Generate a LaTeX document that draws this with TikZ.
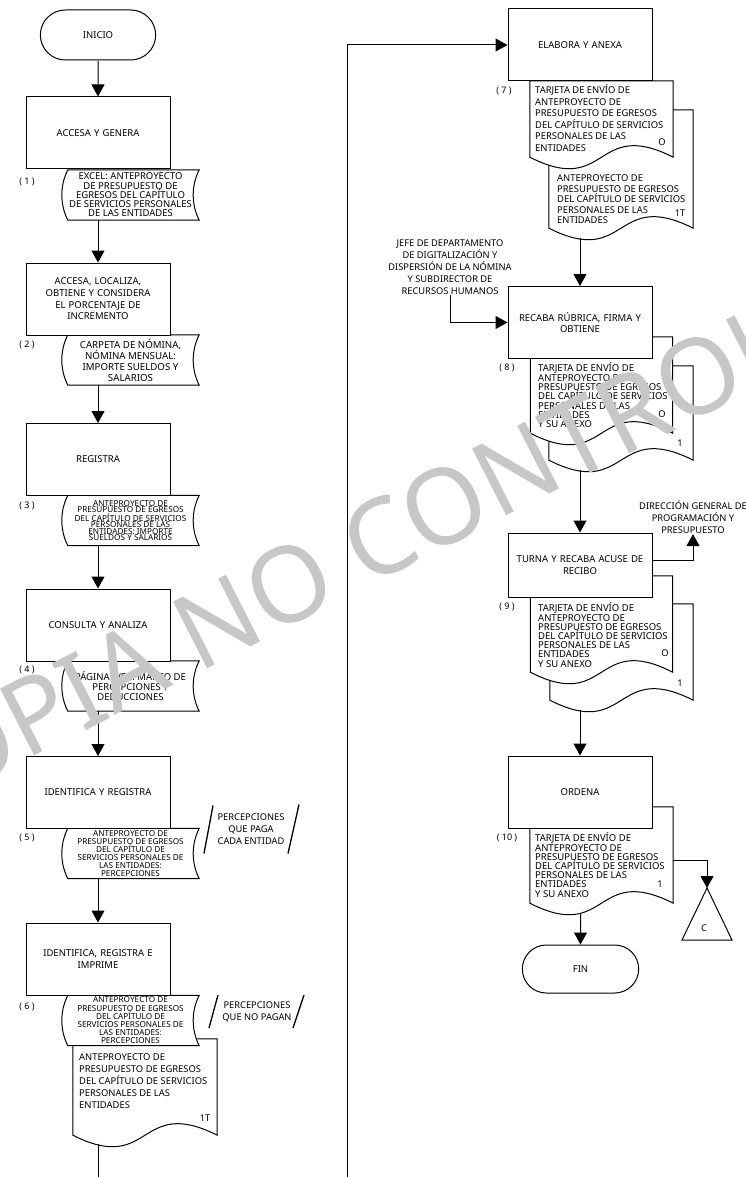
\documentclass[tikz,border=0pt]{standalone}
\usepackage{fontspec}
\setmainfont{Noto Sans}
\usetikzlibrary{positioning, calc, shapes.misc, arrows.meta, backgrounds}

% outlines drawn from the corners of an empty node
\newcommand{\docshape}[1]{%
  \draw[docline] (#1.north west) -- (#1.south west)
    .. controls ($(#1.south west)!0.55!(#1.south east)+(0,40)$) and ($(#1.south west)!0.45!(#1.south east)+(0,-40)$) .. (#1.south east)
    -- (#1.north east) -- cycle;}
\newcommand{\storeshape}[1]{%
  \draw[docline] ($(#1.north west)+(6,0)$) -- (#1.north east)
    .. controls +(-8,16) and +(-8,-16) .. (#1.south east)
    -- ($(#1.south west)+(6,0)$)
    .. controls +(-8,-16) and +(-8,16) .. ($(#1.north west)+(6,0)$) -- cycle;}

\begin{document}
\begin{tikzpicture}[
        x=1pt, y=-1pt,
        box/.style={rectangle, draw, fill=white, line width=1pt, minimum width=144pt, minimum height=72pt, text width=130pt, align=center, font=\fontsize{9.5}{11.7}\selectfont},
        term/.style={rounded rectangle, draw, fill=white, line width=1pt, minimum width=122pt, minimum height=50pt, font=\fontsize{9.5}{11}\selectfont},
        store/.style={inner sep=0pt, minimum width=137pt, minimum height=50pt, align=center},
        docarea/.style={inner sep=0pt},
        doctext/.style={anchor=north west, inner sep=0pt, align=left},
        docline/.style={draw, fill=white, line width=1pt},
        num/.style={inner sep=0pt, font=\fontsize{9}{10}\selectfont},
        tagtext/.style={inner sep=0pt, font=\fontsize{9.3}{10}\selectfont},
        note/.style={inner sep=0pt, align=center, font=\fontsize{9.3}{12}\selectfont},
        slash/.style={line width=1.3pt},
        line/.style={line width=1pt},
        arrow/.style={-{Triangle[length=12pt, width=13pt]}, line width=1pt},
        wm/.style={inner sep=0pt, text=black!22, font=\fontsize{105}{110}\selectfont}
    ]
    \useasboundingbox (0,0) rectangle (745,1177);

    % left column
    \node[term] (start) at (98,35) {INICIO};
    \node[box] (b1) at (98,133) {ACCESA Y GENERA};
    \node[store, font=\fontsize{9.5}{9.3}\selectfont] (s1) at (130.5,195) {EXCEL: ANTEPROYECTO\\DE PRESUPUESTO DE\\EGRESOS DEL CAPÍTULO\\DE SERVICIOS PERSONALES\\DE LAS ENTIDADES};
    \node[num] (n1) at (27,182) {( 1 )};

    \node[box] (b2) at (98,299) {ACCESA, LOCALIZA,\\OBTIENE Y CONSIDERA\\EL PORCENTAJE DE\\INCREMENTO};
    \node[store, font=\fontsize{9.7}{11}\selectfont] (s2) at (130.5,360) {CARPETA DE NÓMINA,\\NÓMINA MENSUAL:\\IMPORTE SUELDOS Y\\SALARIOS};
    \node[num] (n2) at (27,345) {( 2 )};

    \node[box] (b3) at (98,459.5) {REGISTRA};
    \node[store, font=\fontsize{8.2}{6.5}\selectfont] (s3) at (130.5,520.5) {\raisebox{3pt}{}ANTEPROYECTO DE\\PRESUPUESTO DE EGRESOS\\DEL CAPÍTULO DE SERVICIOS\\PERSONALES DE LAS\\ENTIDADES: IMPORTE\\SUELDOS Y SALARIOS};
    \node[num] (n3) at (27,506) {( 3 )};

    \node[box] (b4) at (98,625) {CONSULTA Y ANALIZA};
    \node[store, font=\fontsize{9.5}{10}\selectfont] (s4) at (130.5,686) {PÁGINA WEB: MARCO DE\\PERCEPCIONES Y\\DEDUCCIONES};
    \node[num] (n4) at (27,670) {( 4 )};

    \node[box] (b5) at (98,792.5) {IDENTIFICA Y REGISTRA};
    \node[store, font=\fontsize{8.2}{8}\selectfont] (s5) at (130.5,853.5) {ANTEPROYECTO DE\\PRESUPUESTO DE EGRESOS\\DEL CAPÍTULO DE\\SERVICIOS PERSONALES DE\\LAS ENTIDADES:\\PERCEPCIONES};
    \node[num] (n5) at (27,838) {( 5 )};
    \node[note] (p5) at (251,829.5) {PERCEPCIONES\\QUE PAGA\\CADA ENTIDAD};
    \draw[slash] ($(p5)+(-38,-24)$) -- ($(p5)+(-47,24)$);
    \draw[slash] ($(p5)+(48,-25)$) -- ($(p5)+(37,24)$);

    \node[box] (b6) at (98,959) {IDENTIFICA, REGISTRA E\\IMPRIME};
    \node[store, font=\fontsize{8.2}{8.2}\selectfont] (s6) at (130.5,1020.5) {ANTEPROYECTO DE\\PRESUPUESTO DE EGRESOS\\DEL CAPÍTULO DE\\SERVICIOS PERSONALES DE\\LAS ENTIDADES:\\PERCEPCIONES};
    \node[num] (n6) at (27,1007) {( 6 )};
    \node[note] (p6) at (257,1011.5) {PERCEPCIONES\\QUE NO PAGAN};
    \draw[slash] ($(p6)+(-39,-16.5)$) -- ($(p6)+(-48,16.5)$);
    \draw[slash] ($(p6)+(47,-16.5)$) -- ($(p6)+(36,16.5)$);

    \node[docarea, minimum width=144pt, minimum height=96pt] (d6t) at (145,1087) {};
    \node[doctext, font=\fontsize{9.4}{12}\selectfont] (t6t) at (79,1053.6) {ANTEPROYECTO DE\\PRESUPUESTO DE EGRESOS\\DEL CAPÍTULO DE SERVICIOS\\PERSONALES DE LAS\\ENTIDADES};
    \node[tagtext] (k6t) at (205,1118) {1T};

    % right column
    \node[box] (b7) at (580,45) {ELABORA Y ANEXA};
    \node[docarea, minimum width=143pt, minimum height=76pt] (d7) at (601.5,119) {};
    \node[docarea, minimum width=144pt, minimum height=118pt] (d7b) at (621,169) {};
    \node[num] (n7) at (504,91) {( 7 )};
    \node[doctext, font=\fontsize{9.4}{11.5}\selectfont] (t7) at (535,84.8) {TARJETA DE ENVÍO DE\\ANTEPROYECTO DE\\PRESUPUESTO DE EGRESOS\\DEL CAPÍTULO DE SERVICIOS\\PERSONALES DE LAS\\ENTIDADES};
    \node[tagtext] (o7) at (662,142) {O};
    \node[doctext, font=\fontsize{9.4}{10.5}\selectfont] (t7b) at (557,174.6) {ANTEPROYECTO DE\\PRESUPUESTO DE EGRESOS\\DEL CAPÍTULO DE SERVICIOS\\PERSONALES DE LAS\\ENTIDADES};
    \node[tagtext] (k7b) at (680,213) {1T};

    \node[note] (jefe) at (450,267) {JEFE DE DEPARTAMENTO\\DE DIGITALIZACIÓN Y\\DISPERSIÓN DE LA NÓMINA\\Y SUBDIRECTOR DE\\RECURSOS HUMANOS};
    \node[box] (b8) at (580,322.5) {RECABA RÚBRICA, FIRMA Y\\OBTIENE};
    \node[docarea, minimum width=142pt, minimum height=96pt] (d8) at (601.5,385) {};
    \node[docarea, minimum width=144pt, minimum height=94pt] (d8b) at (621,413) {};
    \node[num] (n8) at (507,368) {( 8 )};
    \node[doctext, font=\fontsize{9.5}{9.3}\selectfont] (t8) at (538,362.7) {TARJETA DE ENVÍO DE\\ANTEPROYECTO DE\\PRESUPUESTO DE EGRESOS\\DEL CAPÍTULO DE SERVICIOS\\PERSONALES DE LAS\\ENTIDADES\\Y SU ANEXO};
    \node[tagtext] (o8) at (662,414) {O};
    \node[tagtext] (k8) at (680,443) {1};

    \node[note] (dgpp) at (693,517.5) {DIRECCIÓN GENERAL DE\\PROGRAMACIÓN Y\\PRESUPUESTO};
    \node[box, minimum height=64pt] (b9) at (580,565) {TURNA Y RECABA ACUSE DE\\RECIBO};
    \node[docarea, minimum width=142pt, minimum height=96pt] (d9) at (601.5,624) {};
    \node[docarea, minimum width=143pt, minimum height=96pt] (d9b) at (621.5,652) {};
    \node[num] (n9) at (507,607) {( 9 )};
    \node[doctext, font=\fontsize{9.5}{9.2}\selectfont] (t9) at (538,602.7) {TARJETA DE ENVÍO DE\\ANTEPROYECTO DE\\PRESUPUESTO DE EGRESOS\\DEL CAPÍTULO DE SERVICIOS\\PERSONALES DE LAS\\ENTIDADES\\Y SU ANEXO};
    \node[tagtext] (o9) at (665,653) {O};
    \node[tagtext] (k9) at (680,683) {1};

    \node[box] (b10) at (580,792) {ORDENA};
    \node[docarea, minimum width=143pt, minimum height=96pt] (d10) at (601.5,855) {};
    \node[num] (n10) at (507,838) {( 10 )};
    \node[doctext, font=\fontsize{9.5}{9.2}\selectfont] (t10) at (535,832.7) {TARJETA DE ENVÍO DE\\ANTEPROYECTO DE\\PRESUPUESTO DE EGRESOS\\DEL CAPÍTULO DE SERVICIOS\\PERSONALES DE LAS\\ENTIDADES\\Y SU ANEXO};
    \node[tagtext] (k10) at (660,884) {1};

    \coordinate (ctop) at (707,888);
    \draw[line] (ctop) -- ++(25,52) -- ++(-50,0) -- cycle;
    \node[tagtext] (conC) at (704,928) {C};
    \node[term, minimum width=123pt, minimum height=48pt] (fin) at (580.5,969) {FIN};

    % document outlines, back to front
    \begin{scope}[on background layer]
        \storeshape{s1}
        \storeshape{s2}
        \storeshape{s3}
        \storeshape{s4}
        \storeshape{s5}
        \docshape{d6t}
        \storeshape{s6}
        \docshape{d7b}
        \docshape{d7}
        \docshape{d8b}
        \docshape{d8}
        \docshape{d9b}
        \docshape{d9}
        \docshape{d10}
    \end{scope}

    % connectors
    \draw[arrow] (start) -- (b1);
    \draw[arrow] (s1.south -| b1) -- (b2);
    \draw[arrow] (s2.south -| b2) -- (b3);
    \draw[arrow] (s3.south -| b3) -- (b4);
    \draw[arrow] (s4.south -| b4) -- (b5);
    \draw[arrow] (s5.south -| b5) -- (b6);
    \draw[arrow] ($(d6t.south -| b6)+(0,9)$) -- ++(0,60) -| ($(b7.west)+(-160,0)$) -- (b7.west);
    \draw[arrow] ($(d7b.south -| b8)+(0,10)$) -- (b8);
    \draw[arrow] (jefe.south) |- (b8.west);
    \draw[arrow] ($(d8b.south -| b9)+(0,10)$) -- (b9);
    \draw[arrow] ([yshift=5pt]b9.east) -| (dgpp.south);
    \draw[arrow] ($(d9b.south -| b10)+(0,10)$) -- (b10);
    \draw[arrow] ([yshift=-5pt]d10.east) -| (ctop);
    \draw[arrow] ($(d10.south -| fin)+(0,10)$) -- (fin);

    % watermark
    \node[wm, rotate=27] (wmark) at (424,516) {COPIA NO CONTROLADA};
\end{tikzpicture}
\end{document}
